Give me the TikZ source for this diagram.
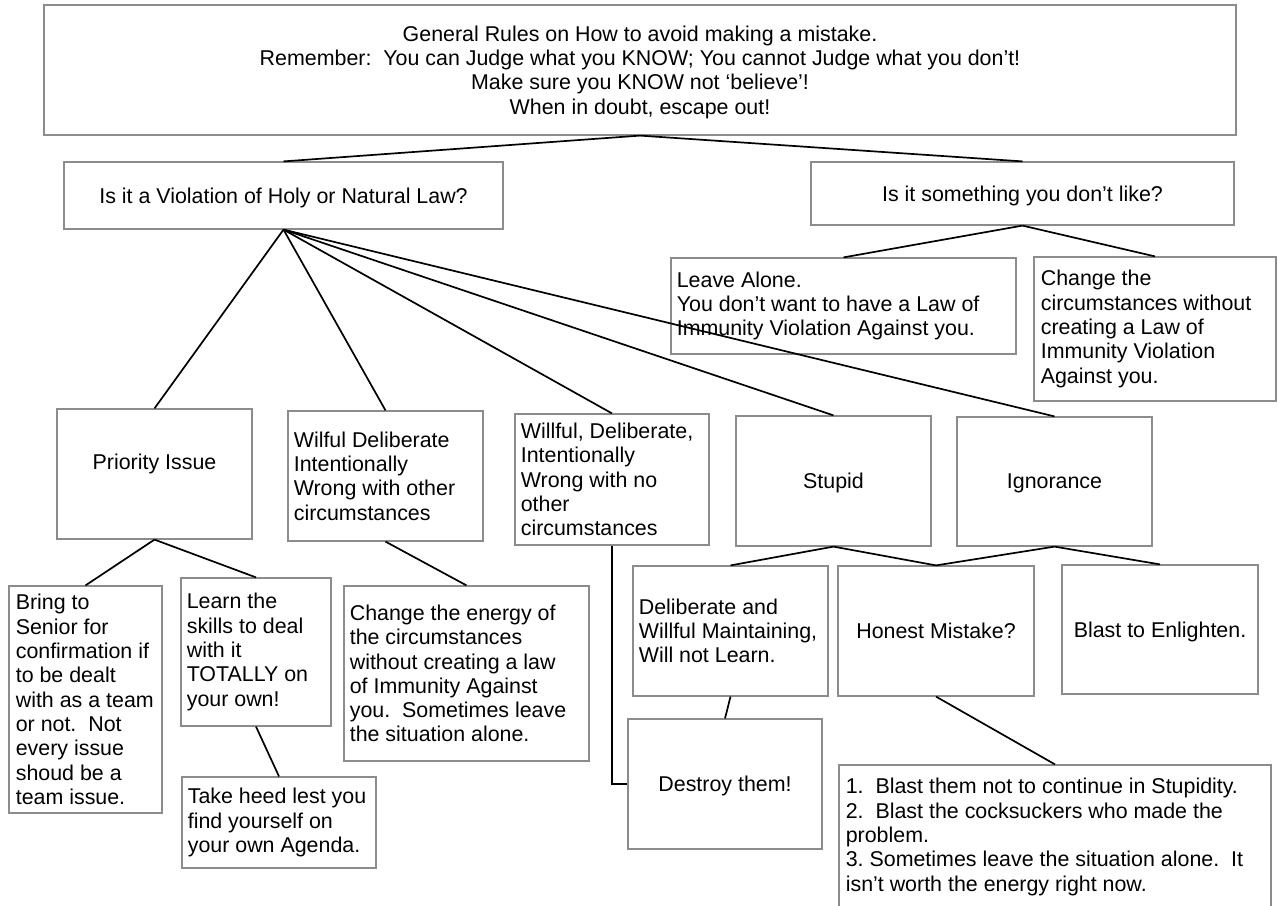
\documentclass[tikz,border=0pt]{standalone}
\usepackage{fontspec}
\setmainfont{Liberation Sans}
\usepackage{tikz}
\usetikzlibrary{positioning}

\begin{document}
\frenchspacing
\begin{tikzpicture}[x=0.5pt,y=-0.5pt,
  box/.style={draw=black!45,line width=0.6pt,rectangle,inner sep=0pt,align=center,
    text depth=0pt,font=\fontsize{10.7pt}{12.15pt}\selectfont},
  txt/.style={inner sep=0pt,align=left,font=\fontsize{10.7pt}{12.15pt}\selectfont},
  link/.style={draw=black,line width=0.85pt}]
\useasboundingbox (0,0) rectangle (1278,905);

% top rule box
\node[box,minimum width=596pt,minimum height=65pt] (rules) at (640,70)
  {General Rules on How to avoid making a mistake.\\
   Remember:\ \ You can Judge what you KNOW; You cannot Judge what you don’t!\\
   Make sure you KNOW not ‘believe’!\\
   When in doubt, escape out!};

% the two questions
\node[box,minimum width=219.5pt,minimum height=33.5pt] (violation) at (283.5,195.5)
  {Is it a Violation of Holy or Natural Law?};
\node[box,minimum width=211.5pt,minimum height=31.5pt] (dislike) at (1022.5,193.5)
  {Is it something you don’t like?};

\node[box,minimum width=172.5pt,minimum height=48pt] (leave) at (843.5,306) {};
\node[txt,right=3pt of leave.west] (leave-t)
  {Leave Alone.\\ You don’t want to have a Law of\\ Immunity Violation Against you.};
\node[box,minimum width=121pt,minimum height=72pt] (change) at (1155,329) {};
\node[txt,right=3.5pt of change.west] (change-t)
  {Change the\\ circumstances without\\ creating a Law of\\ Immunity Violation\\ Against you.};

% kinds of violation
\node[box,minimum width=97.5pt,minimum height=65pt] (priority) at (154.5,474)
  {Priority Issue\\\mbox{}};
\node[box,minimum width=97.5pt,minimum height=65pt] (wilful) at (385.5,476) {};
\node[txt,right=3pt of wilful.west] (wilful-t)
  {Wilful Deliberate\\ Intentionally\\ Wrong with other\\ circumstances};
\node[box,minimum width=97pt,minimum height=65.5pt] (willfulno) at (612,479.5) {};
\node[txt,right=3pt of willfulno.west] (willfulno-t)
  {Willful, Deliberate,\\ Intentionally\\ Wrong with no\\ other\\ circumstances};
\node[box,minimum width=97.5pt,minimum height=65pt] (stupid) at (833.5,481) {Stupid};
\node[box,minimum width=97.5pt,minimum height=64.5pt] (ignorance) at (1054.5,481.5) {Ignorance};

% answers
\node[box,minimum width=76.5pt,minimum height=113.5pt] (bring) at (85.5,699.5) {};
\node[txt,right=3.5pt of bring.west] (bring-t)
  {Bring to\\ Senior for\\ confirmation if\\ to be dealt\\ with as a team\\ or not.\ \ Not\\ every issue\\ shoud be a\\ team issue.};
\node[box,minimum width=75pt,minimum height=74pt] (learn) at (256,652) {};
\node[txt,right=3pt of learn.west] (learn-t)
  {Learn the\\ skills to deal\\ with it\\ TOTALLY on\\ your own!};
\node[box,minimum width=97pt,minimum height=45.5pt] (heed) at (279,822.5) {};
\node[txt,right=3pt of heed.west] (heed-t)
  {Take heed lest you\\ find yourself on\\ your own Agenda.};
\node[box,minimum width=122.5pt,minimum height=87.5pt] (energy) at (466.5,673.5) {};
\node[txt,right=3pt of energy.west] (energy-t)
  {Change the energy of\\ the circumstances\\ without creating a law\\ of Immunity Against\\ you.\ \ Sometimes leave\\ the situation alone.};
\node[box,minimum width=97.5pt,minimum height=65pt] (delib) at (730.5,631) {};
\node[txt,right=3pt of delib.west] (delib-t)
  {Deliberate and\\ Willful Maintaining,\\ Will not Learn.};
\node[box,minimum width=98pt,minimum height=65pt] (honest) at (936,631) {Honest Mistake?};
\node[box,minimum width=98pt,minimum height=64.5pt] (blast) at (1160,629.5) {Blast to Enlighten.};
\node[box,minimum width=97pt,minimum height=65pt] (destroy) at (725,784) {Destroy them!};
\node[box,minimum width=216pt,minimum height=72pt] (remedy) at (1055,837) {};
\node[txt,right=3.5pt of remedy.west] (remedy-t)
  {1.\ \ Blast them not to continue in Stupidity.\\
   2.\ \ Blast the cocksuckers who made the\\ problem.\\
   3. Sometimes leave the situation alone.\ \ It\\ isn’t worth the energy right now.};

% connectors
\draw[link] (rules.south) -- (violation.north);
\draw[link] (rules.south) -- (dislike.north);
\draw[link] (dislike.south) -- (leave.north);
\draw[link] (dislike.south) -- (change.north);
\draw[link] (violation.south) -- (priority.north);
\draw[link] (violation.south) -- (wilful.north);
\draw[link] (violation.south) -- (willfulno.north);
\draw[link] (violation.south) -- (stupid.north);
\draw[link] (violation.south) -- (ignorance.north);
\draw[link] (priority.south) -- (bring.north);
\draw[link] (priority.south) -- (learn.north);
\draw[link] (learn.south) -- (heed.north);
\draw[link] (wilful.south) -- (energy.north);
\draw[link] (stupid.south) -- (delib.north);
\draw[link] (stupid.south) -- (honest.north);
\draw[link] (ignorance.south) -- (honest.north);
\draw[link] (ignorance.south) -- (blast.north);
\draw[link] (delib.south) -- (destroy.north);
\draw[link] (willfulno.south) |- (destroy.west);
\draw[link] (honest.south) -- (remedy.north);
\end{tikzpicture}
\end{document}
